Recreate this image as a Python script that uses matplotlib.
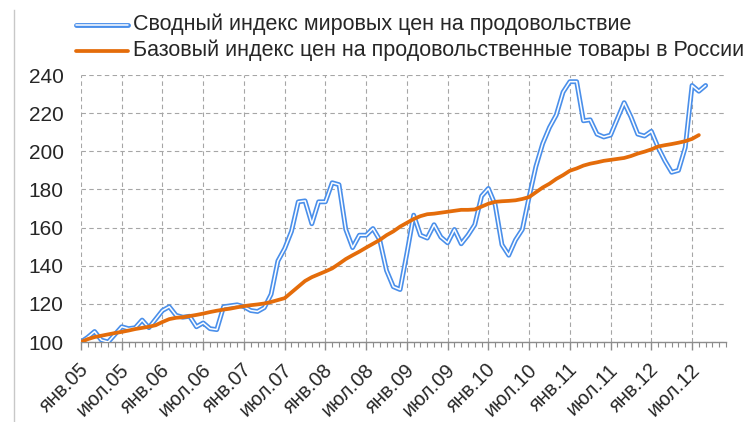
import matplotlib
matplotlib.use("Agg")
import matplotlib.pyplot as plt
from matplotlib.lines import Line2D
import matplotlib.transforms as mtransforms
import numpy as np

# ---- data (monthly, Jan 2005 = 100) ----
world_index = [100, 102.5, 105.5, 101, 100, 104, 108, 107, 107.5, 111.5,
               107.5, 112, 116.5, 118.5, 114, 113, 113.5, 108, 110, 107,
               106.5, 118.5, 119, 119.5, 118.5, 116.5, 116, 118, 125, 142.5,
               149, 158, 173.5, 174, 162, 173.5, 173.5, 183.5, 182.5, 159,
               149.5, 156, 156, 159.5, 153.5, 137.5, 129, 127.5, 146.5, 166.5,
               156, 154.5, 161.5, 155, 152, 159, 151.5, 156, 161.5, 176.5,
               180.5, 172, 151, 145.5, 153.5, 159, 176, 192, 204, 212.5,
               219, 231, 236.5, 236.5, 216, 216.5, 209, 207.5, 208.5, 217,
               225.5, 218, 209, 208, 210.5, 202, 195, 189, 190, 202,
               234.5, 231.5, 234.5]
russia_index = [100, 101.5, 102.6, 103.3, 104, 104.7, 105.3, 106, 106.8, 107.4,
                108, 108.8, 110.5, 112, 112.7, 113, 113.6, 114.2, 114.9, 115.7,
                116.4, 117, 117.5, 118.2, 118.8, 119.3, 119.7, 120.2, 121, 122,
                123, 126, 129, 132, 134, 135.5, 137, 138.6, 141, 143.5,
                145.5, 147.4, 149.5, 151.5, 153.5, 156, 158, 160.5, 162.5, 164.5,
                166, 167, 167.3, 167.8, 168.3, 168.8, 169.3, 169.3, 169.5, 171,
                172.5, 173.5, 173.8, 174, 174.3, 175, 176, 178.5, 181, 183,
                185.5, 187.5, 189.8, 191, 192.5, 193.5, 194.2, 195, 195.5, 196,
                196.5, 197.5, 198.8, 199.8, 201, 202.5, 203.2, 203.8, 204.5, 205.3,
                206.5, 208.5]
tick_labels = ["янв.05", "июл.05", "янв.06", "июл.06", "янв.07", "июл.07",
               "янв.08", "июл.08", "янв.09", "июл.09", "янв.10", "июл.10",
               "янв.11", "июл.11", "янв.12", "июл.12"]
label_world = "Сводный индекс мировых цен на продовольствие"
label_russia = "Базовый индекс цен на продовольственные товары в России"
y_ticks = [100, 120, 140, 160, 180, 200, 220, 240]

FONT = ["Liberation Sans", "DejaVu Sans"]
plt.rcParams["font.family"] = FONT
TXT = "#262626"
BLUE = "#4A8FEA"
ORANGE = "#E46C0A"

W, H = 747, 422
fig = plt.figure(figsize=(W / 100, H / 100), dpi=100)
ax = fig.add_axes([81 / W, (H - 342) / H, (726 - 81) / W, (342 - 75) / H])

x_world = np.arange(len(world_index))
x_russia = np.arange(len(russia_index))

ax.plot(x_world, world_index, color=BLUE, lw=3.5, solid_joinstyle="round",
        solid_capstyle="round", zorder=3)
ax.plot(x_world, world_index, color="white", lw=1.1, solid_joinstyle="round",
        solid_capstyle="round", zorder=4)
ax.plot(x_russia, russia_index, color=ORANGE, lw=2.7, solid_joinstyle="round",
        solid_capstyle="round", zorder=5)

ax.set_xlim(0, 95)
ax.set_ylim(100, 240)
ax.set_yticks(y_ticks)
ax.set_yticklabels([str(v) for v in y_ticks])
major = np.arange(0, 6 * len(tick_labels), 6)
ax.set_xticks(major)
ax.set_xticks(np.arange(0, 96), minor=True)
ax.set_xticklabels(tick_labels, rotation=45, ha="right", va="top",
                   rotation_mode="anchor")

for s in ["top", "right", "left"]:
    ax.spines[s].set_visible(False)
ax.spines["bottom"].set_color("#8c8c8c")
ax.spines["bottom"].set_linewidth(1.0)
ax.spines["bottom"].set_zorder(2)

ax.grid(True, which="major", axis="both", color="#a6a6a6", linestyle=(0, (4, 3)),
        linewidth=0.8)
ax.set_axisbelow(True)

ax.tick_params(axis="y", length=0, pad=12.5, labelsize=15, labelcolor=TXT)
ax.tick_params(axis="x", which="major", length=6, width=1, color="#8c8c8c",
               direction="out", labelsize=14.5, labelcolor=TXT, pad=7)
ax.tick_params(axis="x", which="minor", length=3.5, width=0.8, color="#8c8c8c",
               direction="out")
for lbl in ax.get_xticklabels():
    lbl.set_transform(lbl.get_transform() +
                      mtransforms.ScaledTranslation(-2 / 100, 0, fig.dpi_scale_trans))

# ---- legend (manual) ----
def fx(px):
    return px / W

def fy(py):
    return 1 - py / H

y1, y2 = 24.5, 50.5
fig.add_artist(Line2D([fx(76), fx(128)], [fy(y1), fy(y1)], color=BLUE, lw=3.5,
                      solid_capstyle="round"))
fig.add_artist(Line2D([fx(76), fx(128)], [fy(y1), fy(y1)], color="white", lw=1.1,
                      solid_capstyle="round"))
fig.add_artist(Line2D([fx(76), fx(128)], [fy(y2), fy(y2)], color=ORANGE, lw=2.7,
                      solid_capstyle="round"))
fig.text(fx(133), fy(y1), label_world, ha="left", va="center", fontsize=15.5, color=TXT)
fig.text(fx(133), fy(y2), label_russia, ha="left", va="center", fontsize=15.5, color=TXT)

# thin frame line at the left edge of the screenshot
fig.add_artist(Line2D([fx(13.5), fx(13.5)], [0, fy(10)], color="#c8c8c8", lw=1))

fig.savefig("out.png", dpi=100)
